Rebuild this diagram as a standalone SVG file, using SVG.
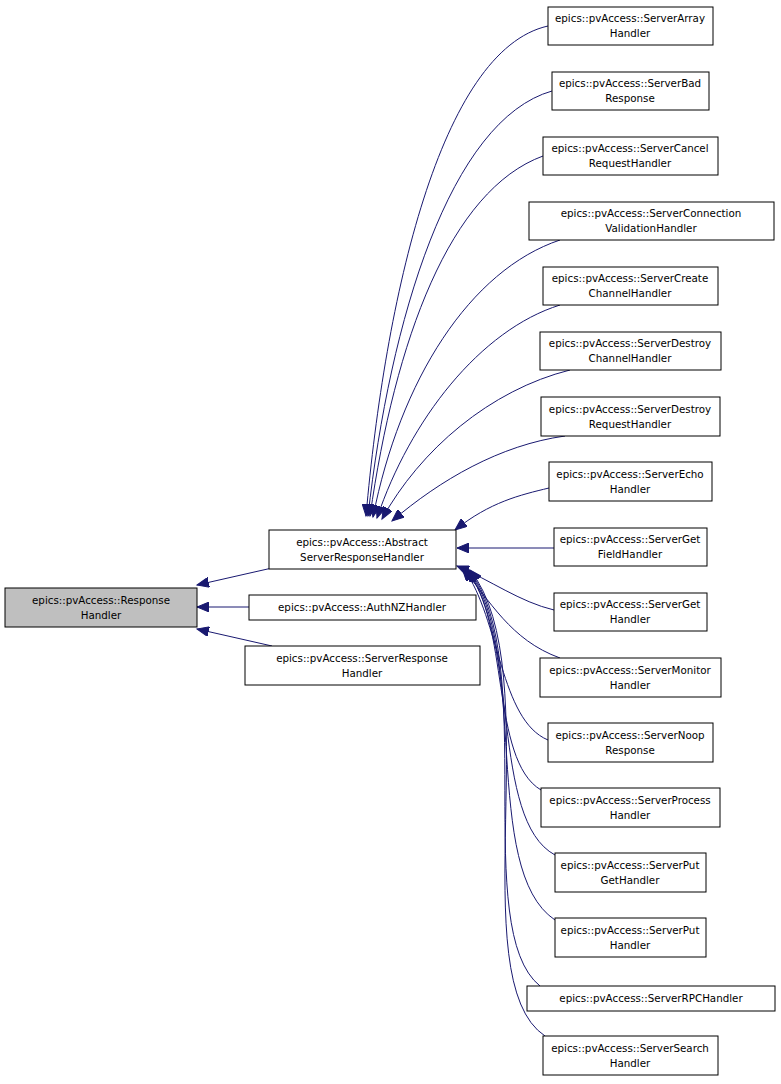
<svg xmlns="http://www.w3.org/2000/svg" width="781" height="1084" viewBox="0 0 781 1084">
<style>
.n rect{fill:#fff;stroke:#000;stroke-width:1}
.n text{font-family:"DejaVu Sans",sans-serif;font-size:10.3px;text-anchor:middle;fill:#000}
#e path{fill:none;stroke:#191970;stroke-width:1}
</style>
<defs><marker id="a" markerUnits="userSpaceOnUse" markerWidth="14" markerHeight="10" refX="12" refY="5" orient="auto"><path d="M0,0L12,5L0,10z" fill="#191970" stroke="#191970"/></marker></defs>
<rect width="781" height="1084" fill="#fff"/>
<g id="e">
<path d="M548,26C440,50 385,300 366,516" marker-end="url(#a)"/>
<path d="M552,91C450,120 390,320 368,516" marker-end="url(#a)"/>
<path d="M543,156C450,190 395,340 370,516" marker-end="url(#a)"/>
<path d="M560,240C470,270 400,380 373,517" marker-end="url(#a)"/>
<path d="M560,305C480,330 410,420 377,518" marker-end="url(#a)"/>
<path d="M570,370C490,390 420,450 382,519" marker-end="url(#a)"/>
<path d="M565,436C500,445 440,480 392,521" marker-end="url(#a)"/>
<path d="M549,488C520,495 490,502 455,530" marker-end="url(#a)"/>
<path d="M554,548L457,548" marker-end="url(#a)"/>
<path d="M554,610C520,602 490,580 457,566" marker-end="url(#a)"/>
<path d="M560,658C510,640 490,600 462,568" marker-end="url(#a)"/>
<path d="M548,740C500,720 500,620 464,569" marker-end="url(#a)"/>
<path d="M541,790C490,760 510,620 466,570" marker-end="url(#a)"/>
<path d="M555,855C490,820 520,640 467,570" marker-end="url(#a)"/>
<path d="M555,920C480,870 530,650 468,570" marker-end="url(#a)"/>
<path d="M540,986C470,930 540,660 469,570" marker-end="url(#a)"/>
<path d="M545,1036C460,980 550,670 470,570" marker-end="url(#a)"/>
<path d="M272,568L197,585" marker-end="url(#a)"/>
<path d="M249,607L197,607" marker-end="url(#a)"/>
<path d="M272,646L197,629" marker-end="url(#a)"/>
</g>
<g id="response" class="n"><rect x="5" y="588" width="192" height="39" style="fill:#bfbfbf"/><text x="101" y="604">epics::pvAccess::Response</text><text x="101" y="619">Handler</text></g>
<g id="abstract" class="n"><rect x="269" y="530" width="187" height="39"/><text x="362" y="546">epics::pvAccess::Abstract</text><text x="362" y="561">ServerResponseHandler</text></g>
<g id="authnz" class="n"><rect x="249" y="595" width="227" height="25"/><text x="362" y="611">epics::pvAccess::AuthNZHandler</text></g>
<g id="serverresponse" class="n"><rect x="245" y="646" width="235" height="39"/><text x="362" y="662">epics::pvAccess::ServerResponse</text><text x="362" y="677">Handler</text></g>
<g id="array" class="n"><rect x="548" y="7" width="165" height="38"/><text x="630" y="22">epics::pvAccess::ServerArray</text><text x="630" y="37">Handler</text></g>
<g id="bad" class="n"><rect x="552" y="72" width="157" height="38"/><text x="630" y="87">epics::pvAccess::ServerBad</text><text x="630" y="102">Response</text></g>
<g id="cancel" class="n"><rect x="543" y="137" width="175" height="38"/><text x="630" y="152">epics::pvAccess::ServerCancel</text><text x="630" y="167">RequestHandler</text></g>
<g id="conn" class="n"><rect x="529" y="202" width="245" height="38"/><text x="651" y="217">epics::pvAccess::ServerConnection</text><text x="651" y="232">ValidationHandler</text></g>
<g id="create" class="n"><rect x="543" y="267" width="175" height="38"/><text x="630" y="282">epics::pvAccess::ServerCreate</text><text x="630" y="297">ChannelHandler</text></g>
<g id="destroych" class="n"><rect x="540" y="332" width="181" height="38"/><text x="630" y="347">epics::pvAccess::ServerDestroy</text><text x="630" y="362">ChannelHandler</text></g>
<g id="destroyrq" class="n"><rect x="541" y="397" width="179" height="39"/><text x="630" y="413">epics::pvAccess::ServerDestroy</text><text x="630" y="428">RequestHandler</text></g>
<g id="echo" class="n"><rect x="549" y="462" width="163" height="39"/><text x="630" y="478">epics::pvAccess::ServerEcho</text><text x="630" y="493">Handler</text></g>
<g id="getfield" class="n"><rect x="554" y="528" width="153" height="38"/><text x="630" y="543">epics::pvAccess::ServerGet</text><text x="630" y="558">FieldHandler</text></g>
<g id="get" class="n"><rect x="554" y="593" width="153" height="38"/><text x="630" y="608">epics::pvAccess::ServerGet</text><text x="630" y="623">Handler</text></g>
<g id="monitor" class="n"><rect x="540" y="658" width="181" height="39"/><text x="630" y="674">epics::pvAccess::ServerMonitor</text><text x="630" y="689">Handler</text></g>
<g id="noop" class="n"><rect x="548" y="723" width="165" height="39"/><text x="630" y="739">epics::pvAccess::ServerNoop</text><text x="630" y="754">Response</text></g>
<g id="process" class="n"><rect x="541" y="788" width="179" height="39"/><text x="630" y="804">epics::pvAccess::ServerProcess</text><text x="630" y="819">Handler</text></g>
<g id="putget" class="n"><rect x="555" y="853" width="151" height="39"/><text x="630" y="869">epics::pvAccess::ServerPut</text><text x="630" y="884">GetHandler</text></g>
<g id="put" class="n"><rect x="555" y="918" width="151" height="39"/><text x="630" y="934">epics::pvAccess::ServerPut</text><text x="630" y="949">Handler</text></g>
<g id="rpc" class="n"><rect x="527" y="986" width="248" height="25"/><text x="651" y="1002">epics::pvAccess::ServerRPCHandler</text></g>
<g id="search" class="n"><rect x="543" y="1036" width="175" height="39"/><text x="630" y="1052">epics::pvAccess::ServerSearch</text><text x="630" y="1067">Handler</text></g>
</svg>
